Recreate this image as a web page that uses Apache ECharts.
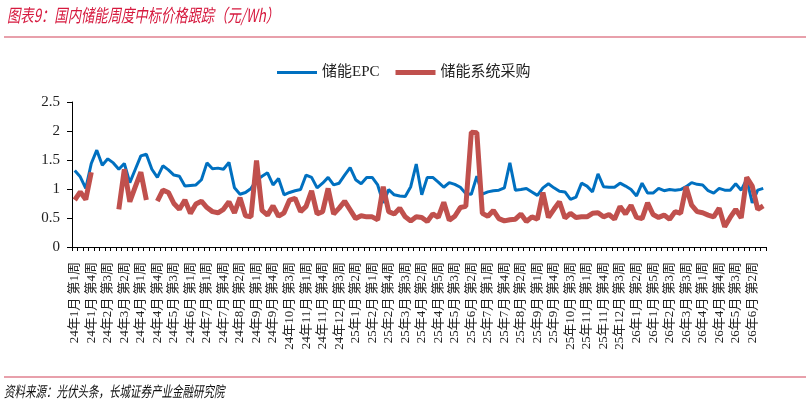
<!DOCTYPE html>
<html><head><meta charset="utf-8">
<script src="https://cdn.jsdelivr.net/npm/echarts@6/dist/echarts.min.js"></script>
<style>html,body{margin:0;padding:0;background:#fff}#c{width:810px;height:406px}</style>
</head><body><div id="c"></div>
<script>
const categories = [
'24年1月 第1周','24年1月 第2周','24年1月 第3周','24年1月 第4周','24年2月 第1周','24年2月 第2周','24年2月 第3周','24年2月 第4周','24年3月 第1周','24年3月 第2周',
'24年3月 第3周','24年3月 第4周','24年4月 第1周','24年4月 第2周','24年4月 第3周','24年4月 第4周','24年5月 第1周','24年5月 第2周','24年5月 第3周','24年5月 第4周',
'24年5月 第5周','24年6月 第1周','24年6月 第2周','24年6月 第3周','24年7月 第1周','24年7月 第2周','24年7月 第3周','24年7月 第4周','24年7月 第5周','24年8月 第1周',
'24年8月 第2周','24年8月 第3周','24年8月 第4周','24年9月 第1周','24年9月 第2周','24年9月 第3周','24年9月 第4周','24年10月 第1周','24年10月 第2周','24年10月 第3周',
'24年10月 第4周','24年10月 第5周','24年11月 第1周','24年11月 第2周','24年11月 第3周','24年11月 第4周','24年12月 第1周','24年12月 第2周','24年12月 第3周','24年12月 第4周',
'25年1月 第1周','25年1月 第2周','25年1月 第3周','25年1月 第4周','25年2月 第1周','25年2月 第2周','25年2月 第3周','25年2月 第4周','25年3月 第1周','25年3月 第2周',
'25年3月 第3周','25年3月 第4周','25年4月 第1周','25年4月 第2周','25年4月 第3周','25年4月 第4周','25年4月 第5周','25年5月 第1周','25年5月 第2周','25年5月 第3周',
'25年5月 第4周','25年6月 第1周','25年6月 第2周','25年6月 第3周','25年6月 第4周','25年7月 第1周','25年7月 第2周','25年7月 第3周','25年7月 第4周','25年7月 第5周',
'25年8月 第1周','25年8月 第2周','25年8月 第3周','25年8月 第4周','25年9月 第1周','25年9月 第2周','25年9月 第3周','25年9月 第4周','25年10月 第1周','25年10月 第2周',
'25年10月 第3周','25年10月 第4周','25年10月 第5周','25年11月 第1周','25年11月 第2周','25年11月 第3周','25年11月 第4周','25年12月 第1周','25年12月 第2周','25年12月 第3周',
'25年12月 第4周','26年1月 第1周','26年1月 第2周','26年1月 第3周','26年1月 第4周','26年1月 第5周','26年2月 第1周','26年2月 第2周','26年2月 第3周','26年3月 第1周',
'26年3月 第2周','26年3月 第3周','26年3月 第4周','26年3月 第5周','26年4月 第1周','26年4月 第2周','26年4月 第3周','26年4月 第4周','26年5月 第1周','26年5月 第2周',
'26年5月 第3周','26年5月 第4周','26年6月 第1周','26年6月 第2周','26年6月 第3周','26年6月 第4周'
];

const epc = [
1.32,1.21,1.01,1.44,1.67,1.41,1.52,1.45,1.34,1.44,
1.11,1.34,1.57,1.60,1.34,1.20,1.40,1.33,1.24,1.22,
1.05,1.06,1.07,1.16,1.45,1.35,1.36,1.34,1.46,1.02,
0.91,0.94,1.01,1.15,1.22,1.28,1.07,1.18,0.90,0.94,
0.97,0.99,1.24,1.20,1.02,1.10,1.20,1.07,1.10,1.24,
1.37,1.16,1.09,1.20,1.20,1.07,0.76,0.99,0.90,0.88,
0.87,1.04,1.43,0.90,1.20,1.20,1.12,1.03,1.11,1.08,
1.03,0.92,0.91,1.22,0.91,0.95,0.97,0.98,1.02,1.45,
0.98,0.99,1.01,0.95,0.89,1.02,1.09,1.02,0.96,0.95,
0.82,0.86,1.10,1.05,0.95,1.26,1.04,1.03,1.03,1.10,
1.05,0.99,0.88,1.10,0.93,0.93,1.01,0.97,0.99,0.98,
0.99,1.04,1.11,1.08,1.07,0.97,0.93,1.01,0.98,0.98,
1.09,0.98,1.17,0.76,0.98,1.01
];

const systemPurchase = [
0.81,0.95,0.82,1.29,null,null,null,null,0.65,1.34,
0.78,1.04,1.29,0.81,null,0.79,0.98,0.94,0.75,0.65,
0.81,0.58,0.74,0.79,0.68,0.61,0.59,0.65,0.78,0.59,
0.85,0.54,0.52,1.49,0.63,0.55,0.71,0.53,0.59,0.81,
0.84,0.61,0.70,0.97,0.57,0.61,1.01,0.57,0.67,0.79,
0.64,0.49,0.54,0.52,0.52,0.47,1.04,0.61,0.57,0.67,
0.52,0.45,0.52,0.51,0.44,0.57,0.51,0.77,0.46,0.53,
0.68,0.70,1.98,1.97,0.58,0.53,0.63,0.49,0.45,0.47,
0.48,0.57,0.44,0.52,0.48,0.94,0.51,0.65,0.78,0.50,
0.58,0.51,0.52,0.52,0.58,0.59,0.52,0.56,0.48,0.70,
0.57,0.72,0.51,0.49,0.76,0.56,0.51,0.55,0.48,0.61,
0.58,1.04,0.72,0.61,0.59,0.55,0.52,0.67,0.35,0.51,
0.65,0.50,1.20,1.05,0.65,0.71
];

const seriesNames = ['储能EPC', '储能系统采购'];
const yMin = 0, yMax = 2.5, yInterval = 0.5;
const titleText = '图表9：国内储能周度中标价格跟踪（元/Wh）';
const sourceText = '资料来源：光伏头条，长城证券产业金融研究院';

const serif = '"Liberation Serif", "Noto Sans CJK SC", serif';
const chart = echarts.init(document.getElementById('c'), null, {renderer: 'canvas'});
chart.setOption({
  animation: false,
  backgroundColor: '#fff',
  grid: {left: 72, right: 44, top: 102, bottom: 159},
  legend: {
    left: 272, top: 60, itemWidth: 40, itemHeight: 14, itemGap: 16,
    textStyle: {fontSize: 15, color: '#222', fontFamily: serif},
    data: [
      {name: seriesNames[0], icon: 'path://M0,0H40V3H0Z'},
      {name: seriesNames[1], icon: 'path://M0,0H40V5H0Z'}
    ]
  },
  xAxis: {
    type: 'category', data: categories, boundaryGap: true,
    axisLine: {lineStyle: {color: '#000', width: 1}},
    axisTick: {show: true, interval: 0, length: 4, lineStyle: {color: '#000'}},
    axisLabel: {interval: 2, rotate: 90, fontSize: 13, margin: 15, color: '#222', fontFamily: serif}
  },
  yAxis: {
    type: 'value', min: yMin, max: yMax, interval: yInterval,
    splitLine: {show: false},
    axisLine: {show: true, lineStyle: {color: '#000'}},
    axisTick: {show: true, length: 5, lineStyle: {color: '#000'}},
    axisLabel: {fontSize: 15, color: '#222', margin: 12, fontFamily: serif}
  },
  series: [
    {name: seriesNames[0], type: 'line', data: epc, symbol: 'none', showSymbol: false,
     lineStyle: {color: '#0070C0', width: 3}, itemStyle: {color: '#0070C0'}},
    {name: seriesNames[1], type: 'line', data: systemPurchase, symbol: 'none', showSymbol: false, connectNulls: false,
     lineStyle: {color: '#C0504D', width: 5}, itemStyle: {color: '#C0504D'}}
  ],
  graphic: [
    {type: 'text', x: 7, y: 6, scaleX: 0.74, style: {text: titleText, fill: '#D6193E',
      font: 'italic 18px "Noto Sans CJK SC"', textVerticalAlign: 'top'}},
    {type: 'line', shape: {x1: 4, y1: 37, x2: 806, y2: 37}, style: {stroke: '#E8A0AB', lineWidth: 2}},
    {type: 'line', shape: {x1: 4, y1: 377, x2: 806, y2: 377}, style: {stroke: '#E8A0AB', lineWidth: 2}},
    {type: 'text', x: 4, y: 384, scaleX: 0.7, style: {text: sourceText, fill: '#111',
      font: 'italic 15px "Noto Sans CJK SC"', textVerticalAlign: 'top'}}
  ]
});
</script></body></html>
